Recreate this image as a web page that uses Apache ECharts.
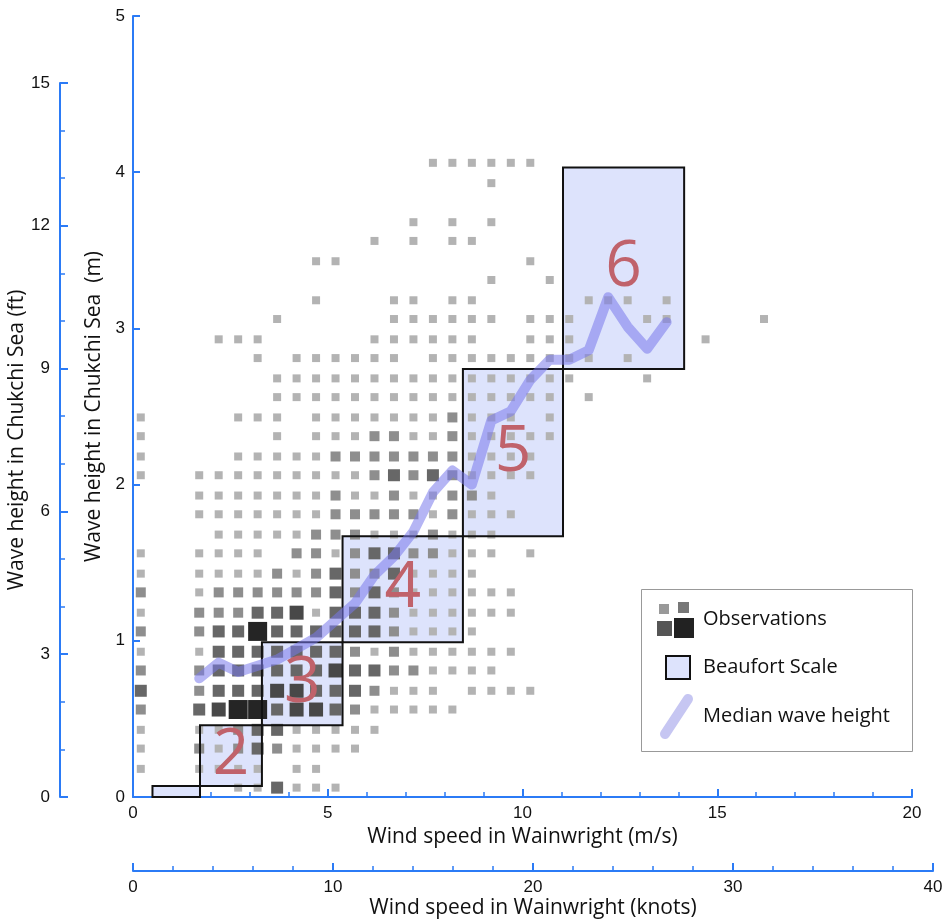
<!DOCTYPE html>
<html>
<head>
<meta charset="utf-8">
<script src="https://cdn.jsdelivr.net/npm/echarts@6/dist/echarts.min.js"></script>
<style>
  html, body { margin: 0; padding: 0; background: #fff; }
  #chart { width: 947px; height: 924px; }
</style>
</head>
<body>
<div id="chart"></div>
<script>
// wind speed bin centres (m/s), one per grid column
var windBins = [0.2, 0.7, 1.2, 1.7, 2.2, 2.7, 3.2, 3.7, 4.2, 4.7, 5.2, 5.7, 6.2, 6.7, 7.2, 7.7, 8.2,
  8.7, 9.2, 9.7, 10.2, 10.7, 11.2, 11.7, 12.2, 12.7, 13.2, 13.7, 14.2, 14.7, 15.2, 15.7, 16.2];
// wave height bin centres (m), bottom to top
var waveBins = [0.06, 0.18, 0.31, 0.43, 0.56, 0.68, 0.81, 0.93, 1.06, 1.18, 1.31, 1.43, 1.56, 1.68,
  1.81, 1.93, 2.06, 2.18, 2.31, 2.43, 2.56, 2.68, 2.81, 2.93, 3.06, 3.18, 3.31, 3.43, 3.56, 3.68,
  3.81, 3.93, 4.06];
// observation density per cell, first string = highest wave bin
// 0 empty, 1 few ... 5 many
var obsGrid = [
  "000000000000000111111000000000000",
  "000000000000000000100000000000000",
  "000000000000000000000000000000000",
  "000000000000001010100000000000000",
  "000000000000101011000000000000000",
  "000000000110000000001000000000000",
  "000000000000000000100100000000000",
  "000000000100011011000001110100000",
  "000000010000011111101110001100001",
  "000011100000111111001110000001000",
  "000000101111110111111111010000000",
  "000000011111111111111110001000000",
  "000000011111111111111101000000000",
  "100001110111111121110100000000000",
  "100000010111221121111100000000000",
  "100001111122222221111000000000000",
  "100111111111232321111000000000000",
  "000111111121121122100000000000000",
  "000111111122222121110000000000000",
  "000011111222111211100000000000000",
  "100111102212332211101000000000000",
  "100111121232231111000000000000000",
  "200122222232321111110000000000000",
  "100222334133321111110000000000000",
  "200233533333321111000000000000000",
  "100133333332121111110000000000000",
  "200233333343322111100000000000000",
  "300233344333211101111000000000000",
  "200345534432111110000000000000000",
  "100112331111100000000000000000000",
  "100212321111000000000000000000000",
  "100111101100000000000000000000000",
  "000001131110000000000000000000000"
];
// median wave height per wind bin
var medianWind = [1.7, 2.2, 2.7, 3.2, 3.7, 4.2, 4.7, 5.2, 5.7, 6.2, 6.7, 7.2, 7.7, 8.2, 8.7,
  9.2, 9.7, 10.2, 10.7, 11.2, 11.7, 12.2, 12.7, 13.2, 13.7];
var medianWave = [0.76, 0.86, 0.80, 0.84, 0.88, 0.95, 1.02, 1.13, 1.24, 1.42, 1.54, 1.70, 1.95,
  2.09, 2.00, 2.41, 2.47, 2.67, 2.80, 2.80, 2.86, 3.20, 3.01, 2.87, 3.04];
// Beaufort scale boxes
var beaufortForce = [1, 2, 3, 4, 5, 6];
var beaufortWindLow = [0.5, 1.72, 3.31, 5.38, 8.47, 11.04];
var beaufortWindHigh = [1.72, 3.31, 5.38, 8.47, 11.04, 14.15];
var beaufortWaveLow = [0, 0.07, 0.46, 0.99, 1.67, 2.74];
var beaufortWaveHigh = [0.07, 0.46, 0.99, 1.67, 2.74, 4.03];

var blue = '#2b7bf6';
var tickFont = 'Liberation Sans, Arial, sans-serif';
var titleFont = 'Open Sans, sans-serif';
var levelSize = [0, 8, 10, 12, 14, 19];
var levelColor = ['#fff', '#b3b3b3', '#8e8e8e', '#676767', '#484848', '#252525'];

var obsData = [];
for (var r = 0; r < obsGrid.length; r++) {
  var wave = waveBins[obsGrid.length - 1 - r];
  for (var c = 0; c < obsGrid[r].length; c++) {
    var lv = +obsGrid[r][c];
    if (lv > 0) obsData.push([windBins[c], wave, lv]);
  }
}
obsData.sort(function (a, b) { return a[2] - b[2]; });

var boxData = beaufortForce.map(function (f, i) {
  return [beaufortWindLow[i], beaufortWindHigh[i], beaufortWaveLow[i], beaufortWaveHigh[i], f];
});
var medianData = medianWind.map(function (w, i) { return [w, medianWave[i]]; });

function boxRect(api) {
  var p0 = api.coord([api.value(0), api.value(3)]);
  var p1 = api.coord([api.value(1), api.value(2)]);
  return { x: p0[0], y: p0[1], width: p1[0] - p0[0], height: p1[1] - p0[1] };
}

var myChart = echarts.init(document.getElementById('chart'));
var option = {
  animation: false,
  grid: [
    { left: 133, top: 16, width: 779, height: 781 },
    { left: 60, top: 83, width: 1, height: 714 },
    { left: 133, top: 870, width: 800, height: 1 }
  ],
  xAxis: [
    {
      gridIndex: 0, type: 'value', min: 0, max: 20, interval: 5,
      axisLine: { lineStyle: { color: blue, width: 2 } },
      axisTick: { inside: true, length: 8, lineStyle: { color: blue, width: 2 } },
      minorTick: { show: true, splitNumber: 5, length: 5, lineStyle: { color: blue, width: 1.5 } },
      splitLine: { show: false },
      axisLabel: { color: '#111', fontSize: 17, fontFamily: tickFont, margin: 8 },
      name: 'Wind speed in Wainwright (m/s)', nameLocation: 'middle', nameGap: 26,
      nameTextStyle: { color: '#111', fontSize: 21, fontFamily: titleFont, verticalAlign: 'top' }
    },
    { gridIndex: 1, type: 'value', min: 0, max: 1, show: false },
    {
      gridIndex: 2, type: 'value', min: 0, max: 40, interval: 10,
      axisLine: { lineStyle: { color: blue, width: 2 } },
      axisTick: { inside: true, length: 8, lineStyle: { color: blue, width: 2 } },
      minorTick: { show: true, splitNumber: 5, length: 5, lineStyle: { color: blue, width: 1.5 } },
      splitLine: { show: false },
      axisLabel: { color: '#111', fontSize: 17, fontFamily: tickFont, margin: 8 },
      name: 'Wind speed in Wainwright (knots)', nameLocation: 'middle', nameGap: 27,
      nameTextStyle: { color: '#111', fontSize: 21, fontFamily: titleFont, verticalAlign: 'top' }
    }
  ],
  yAxis: [
    {
      gridIndex: 0, type: 'value', min: 0, max: 5, interval: 1,
      axisLine: { show: true, lineStyle: { color: blue, width: 2 } },
      axisTick: { show: true, inside: true, length: 7, lineStyle: { color: blue, width: 2 } },
      splitLine: { show: false },
      axisLabel: { color: '#111', fontSize: 17, fontFamily: tickFont, margin: 8 },
      name: 'Wave height in Chukchi Sea  (m)', nameLocation: 'middle', nameGap: 27,
      nameTextStyle: { color: '#111', fontSize: 21, fontFamily: titleFont }
    },
    {
      gridIndex: 1, type: 'value', min: 0, max: 15, interval: 3,
      axisLine: { show: true, lineStyle: { color: blue, width: 2 } },
      axisTick: { show: true, inside: true, length: 8, lineStyle: { color: blue, width: 2 } },
      minorTick: { show: true, splitNumber: 3, length: 5, lineStyle: { color: blue, width: 1.5 } },
      splitLine: { show: false },
      axisLabel: { color: '#111', fontSize: 17, fontFamily: tickFont, margin: 10 },
      name: 'Wave height in Chukchi Sea (ft)', nameLocation: 'middle', nameGap: 31,
      nameTextStyle: { color: '#111', fontSize: 21, fontFamily: titleFont }
    },
    { gridIndex: 2, type: 'value', min: 0, max: 1, show: false }
  ],
  series: [
    {
      // Beaufort box fill, under the observations
      type: 'custom', xAxisIndex: 0, yAxisIndex: 0, z: 1, silent: true,
      encode: { x: [0, 1], y: [2, 3] },
      data: boxData,
      renderItem: function (params, api) {
        return { type: 'rect', shape: boxRect(api), style: { fill: '#dde3fc' } };
      }
    },
    {
      type: 'scatter', xAxisIndex: 0, yAxisIndex: 0, z: 2, symbol: 'rect',
      symbolSize: function (v) { return levelSize[v[2]]; },
      itemStyle: { color: function (p) { return levelColor[p.value[2]]; }, opacity: 1 },
      data: obsData
    },
    {
      // Beaufort box outline and force number
      type: 'custom', xAxisIndex: 0, yAxisIndex: 0, z: 3, silent: true,
      encode: { x: [0, 1], y: [2, 3] },
      data: boxData,
      renderItem: function (params, api) {
        var s = boxRect(api);
        var kids = [{ type: 'rect', shape: s, style: { fill: 'none', stroke: '#111', lineWidth: 2 } }];
        if (api.value(4) > 1) {
          kids.push({
            type: 'text', x: s.x + s.width / 2, y: s.y + s.height / 2,
            style: { text: String(api.value(4)), fill: '#c0626b', fontSize: 64,
              fontFamily: titleFont, align: 'center', verticalAlign: 'middle' }
          });
        }
        return { type: 'group', children: kids };
      }
    },
    {
      type: 'line', xAxisIndex: 0, yAxisIndex: 0, z: 4, symbol: 'none',
      lineStyle: { color: 'rgba(120,120,235,0.55)', width: 10, cap: 'round', join: 'round' },
      data: medianData
    }
  ],
  graphic: [
    { type: 'rect', z: 10, shape: { x: 641.5, y: 589.5, width: 271, height: 162 },
      style: { fill: '#fff', stroke: '#999', lineWidth: 1 } },
    { type: 'rect', z: 11, shape: { x: 659, y: 604, width: 10, height: 10 }, style: { fill: '#999' } },
    { type: 'rect', z: 11, shape: { x: 678, y: 602, width: 11, height: 11 }, style: { fill: '#777' } },
    { type: 'rect', z: 11, shape: { x: 657, y: 621, width: 15, height: 15 }, style: { fill: '#555' } },
    { type: 'rect', z: 11, shape: { x: 674, y: 618, width: 20, height: 20 }, style: { fill: '#222' } },
    { type: 'text', z: 11, x: 703, y: 619,
      style: { text: 'Observations', fill: '#111', fontSize: 20, fontFamily: titleFont, verticalAlign: 'middle' } },
    { type: 'rect', z: 11, shape: { x: 666, y: 656, width: 24, height: 23 },
      style: { fill: '#dde3fc', stroke: '#111', lineWidth: 2 } },
    { type: 'text', z: 11, x: 703, y: 667,
      style: { text: 'Beaufort Scale', fill: '#111', fontSize: 20, fontFamily: titleFont, verticalAlign: 'middle' } },
    { type: 'line', z: 11, shape: { x1: 665, y1: 734, x2: 688, y2: 699 },
      style: { stroke: '#c6c6f2', lineWidth: 10, lineCap: 'round' } },
    { type: 'text', z: 11, x: 703, y: 716,
      style: { text: 'Median wave height', fill: '#111', fontSize: 20, fontFamily: titleFont, verticalAlign: 'middle' } }
  ]
};
myChart.setOption(option);
window.addEventListener('resize', function () { myChart.resize(); });
</script>
</body>
</html>
